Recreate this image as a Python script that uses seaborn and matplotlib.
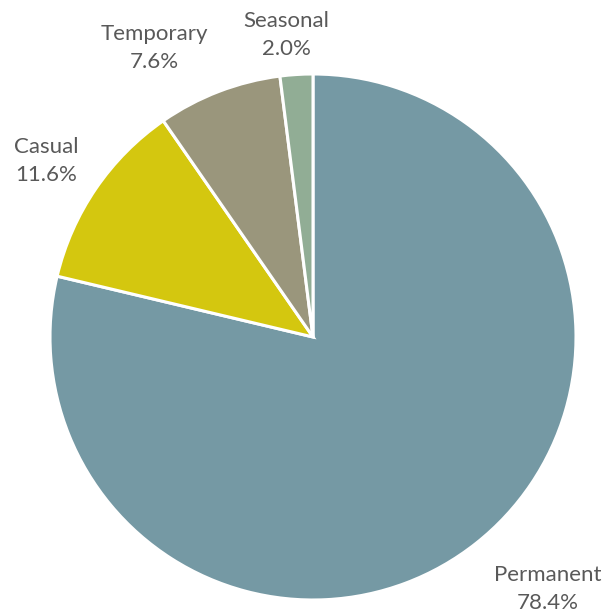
import numpy as np
import matplotlib
matplotlib.use("Agg")
import matplotlib.pyplot as plt
import seaborn as sns

categories = ["Permanent", "Casual", "Temporary", "Seasonal"]
values = [78.4, 11.6, 7.6, 2.0]
pct_labels = ["78.4%", "11.6%", "7.6%", "2.0%"]
colors = ["#7599A4", "#D4C70F", "#9A967C", "#91AD95"]

sns.set_theme(style="white")
plt.rcParams["font.family"] = ["Lato", "DejaVu Sans"]

W, H = 605, 615
fig = plt.figure(figsize=(W / 100, H / 100), dpi=100)
cx, cy, R = 313, 337, 263
ax = fig.add_axes([(cx - R) / W, (H - cy - R) / H, 2 * R / W, 2 * R / H])
wedges, _ = ax.pie(values, colors=colors, startangle=90, counterclock=False,
                   wedgeprops=dict(edgecolor="white", linewidth=2.2), radius=1)
ax.set_xlim(-1, 1)
ax.set_ylim(-1, 1)
ax.set_aspect("equal")
ax.axis("off")

# label placement: (distance factor, angle offset in degrees)
place = [(1.31, 4.6), (1.216, 1.0), (1.252, 7.8), (1.152, 1.4)]
for w, cat, pl, (d, off) in zip(wedges, categories, pct_labels, place):
    ang = np.deg2rad((w.theta1 + w.theta2) / 2 + off)
    ax.text(d * np.cos(ang), d * np.sin(ang), f"{cat}\n{pl}", ha="center", va="center",
            fontsize=16, color="#595959", linespacing=1.5, clip_on=False)

fig.savefig("out.png", dpi=100, facecolor="white")
